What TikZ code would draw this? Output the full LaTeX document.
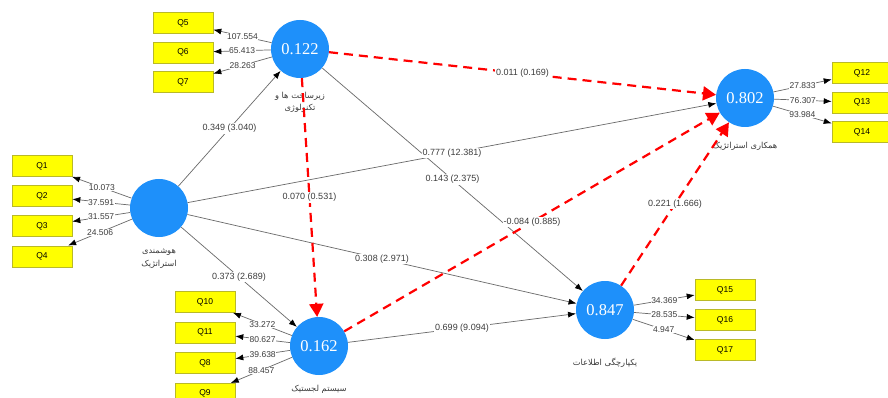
\documentclass[tikz,border=0pt]{standalone}
\usepackage{fontspec}
\setmainfont{Liberation Sans}
\newfontfamily\numfont{Liberation Serif}
\newfontfamily\fafont[Script=Arabic]{DejaVu Sans}
\TeXXeTstate=1
\usetikzlibrary{positioning, arrows.meta}
\definecolor{lvblue}{RGB}{30,144,250}
\definecolor{qyellow}{RGB}{255,255,0}
\definecolor{qedge}{RGB}{185,185,40}
\definecolor{pathgray}{RGB}{105,105,105}
\definecolor{txtgray}{RGB}{60,60,60}

\begin{document}
\begin{tikzpicture}[x=1pt, y=-1pt,
  lv/.style={circle, fill=lvblue, minimum size=58pt, inner sep=0pt, text=white, font=\numfont\fontsize{16.5}{16.5}\selectfont},
  ind/.style={rectangle, fill=qyellow, draw=qedge, line width=0.6pt, minimum width=60pt, minimum height=21pt, inner sep=0pt, font=\fontsize{8.5}{8.5}\selectfont},
  lvname/.style={align=center, text=txtgray, font=\fafont\fontsize{8.3}{12.5}\selectfont},
  coef/.style={fill=white, inner sep=1pt, text=txtgray, font=\fontsize{9}{9}\selectfont},
  load/.style={fill=white, inner sep=0.5pt, text=txtgray, font=\fontsize{8.5}{8.5}\selectfont},
  sigpath/.style={draw=pathgray, line width=0.7pt, -{Latex[black, length=8pt, width=6pt]}},
  loadarrow/.style={draw=pathgray, line width=0.7pt, -{Latex[black, length=8pt, width=6pt]}},
  nsigpath/.style={draw=red, line width=2.2pt, dash pattern=on 9pt off 6pt, -{Triangle[red, length=13pt, width=14pt]}}]
\useasboundingbox[fill=white] (0,0) rectangle (888,398);
%\draw[red] (0,0) rectangle (888,398);
\node[lv](Smart) at (159,208){};
\node[lvname, below=8pt of Smart](SmartName){\beginR هوشمندی\endR\\ \beginR استراتژیک\endR};
\node[lv](Infra) at (300,49){0.122};
\node[lvname, below=10pt of Infra](InfraName){\beginR زیرساخت ها و\endR\\ \beginR تکنولوژی\endR};
\node[lv](Logis) at (319,346){0.162};
\node[lvname, below=6pt of Logis](LogisName){\beginR سیستم لجستیک\endR};
\node[lv](Collab) at (745,98){0.802};
\node[lvname, below=11pt of Collab](CollabName){\beginR همکاری استراتژیک\endR};
\node[lv](Integr) at (605,310){0.847};
\node[lvname, below=15pt of Integr](IntegrName){\beginR یکپارچگی اطلاعات\endR};

\node[ind](Q5) at (183,23){Q5};
\node[ind, below=8pt of Q5](Q6){Q6};
\node[ind, below=8pt of Q6](Q7){Q7};
\node[ind](Q1) at (42,166){Q1};
\node[ind, below=8.5pt of Q1](Q2){Q2};
\node[ind, below=8.5pt of Q2](Q3){Q3};
\node[ind, below=8.5pt of Q3](Q4){Q4};
\node[ind](Q10) at (205,302){Q10};
\node[ind, below=9pt of Q10](Q11){Q11};
\node[ind, below=9pt of Q11](Q8){Q8};
\node[ind, below=9pt of Q8](Q9){Q9};
\node[ind](Q12) at (862,73){Q12};
\node[ind, below=8pt of Q12](Q13){Q13};
\node[ind, below=8pt of Q13](Q14){Q14};
\node[ind](Q15) at (725,290){Q15};
\node[ind, below=8.5pt of Q15](Q16){Q16};
\node[ind, below=8.5pt of Q16](Q17){Q17};

\draw[loadarrow] (Infra) -- node[load]{107.554} (Q5);
\draw[loadarrow] (Infra) -- node[load]{65.413} (Q6);
\draw[loadarrow] (Infra) -- node[load]{28.263} (Q7);
\draw[loadarrow] (Smart) -- node[load]{10.073} (Q1);
\draw[loadarrow] (Smart) -- node[load]{37.591} (Q2);
\draw[loadarrow] (Smart) -- node[load]{31.557} (Q3);
\draw[loadarrow] (Smart) -- node[load]{24.506} (Q4);
\draw[loadarrow] (Logis) -- node[load]{33.272} (Q10);
\draw[loadarrow] (Logis) -- node[load]{80.627} (Q11);
\draw[loadarrow] (Logis) -- node[load]{39.638} (Q8);
\draw[loadarrow] (Logis) -- node[load]{88.457} (Q9);
\draw[loadarrow] (Collab) -- node[load]{27.833} (Q12);
\draw[loadarrow] (Collab) -- node[load]{76.307} (Q13);
\draw[loadarrow] (Collab) -- node[load]{93.984} (Q14);
\draw[loadarrow] (Integr) -- node[load]{34.369} (Q15);
\draw[loadarrow] (Integr) -- node[load]{28.535} (Q16);
\draw[loadarrow] (Integr) -- node[load]{4.947} (Q17);

\draw[sigpath] (Infra) -- node[coef]{0.143 (2.375)} (Integr);
\draw[sigpath] (Smart) -- node[coef]{0.349 (3.040)} (Infra);
\draw[sigpath] (Smart) -- node[coef]{0.777 (12.381)} (Collab);
\draw[sigpath] (Smart) -- node[coef]{0.308 (2.971)} (Integr);
\draw[sigpath] (Smart) -- node[coef]{0.373 (2.689)} (Logis);
\draw[sigpath] (Logis) -- node[coef]{0.699 (9.094)} (Integr);
\draw[nsigpath] (Infra) -- node[coef]{0.011 (0.169)} (Collab);
\draw[nsigpath] (Infra) -- node[coef]{0.070 (0.531)} (Logis);
\draw[nsigpath] (Logis) -- node[coef]{-0.084 (0.885)} (Collab);
\draw[nsigpath] (Integr) -- node[coef]{0.221 (1.666)} (Collab);
\end{tikzpicture}
\end{document}
